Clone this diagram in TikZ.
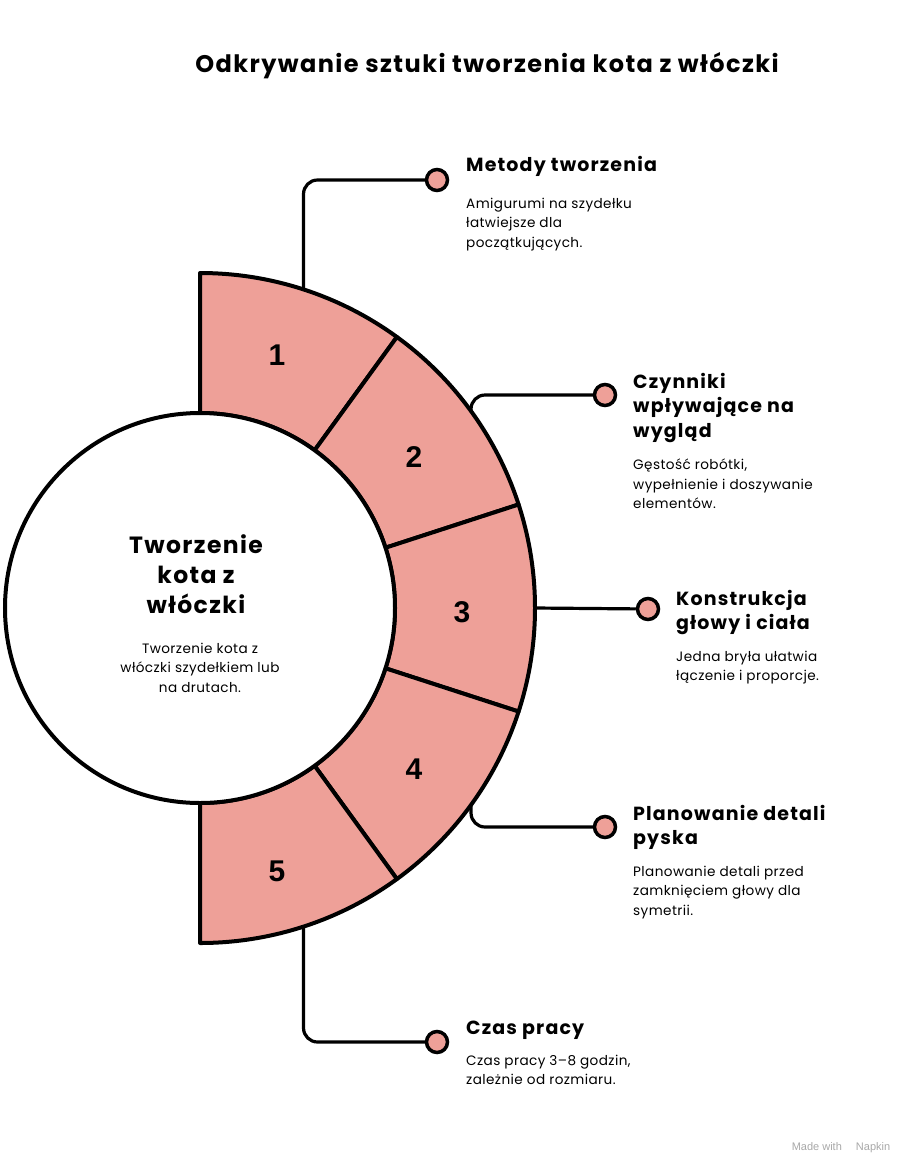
\documentclass[tikz,border=0pt]{standalone}
\usepackage{fontspec}
\setmainfont[LetterSpace=3]{Poppins}
\newfontfamily\headfont[LetterSpace=6]{Poppins}
\newfontfamily\numfont{Liberation Sans}
\usetikzlibrary{calc}
\definecolor{yarnpink}{HTML}{EEA098}
\definecolor{napkingray}{HTML}{A8A8A8}
\tikzset{
  ring/.style={fill=yarnpink, draw=black, line width=4pt, line join=round},
  hub/.style={circle, draw=black, fill=white, line width=4pt, minimum size=390pt, inner sep=0pt},
  dot/.style={circle, draw=black, fill=yarnpink, line width=3.5pt, minimum size=21pt, inner sep=0pt},
  link/.style={line width=3.2pt, rounded corners=14pt},
  head/.style={anchor=north west, align=left, inner sep=0pt, font=\headfont\fontsize{19}{24.5}\selectfont\bfseries},
  desc/.style={anchor=north west, align=left, inner sep=0pt, font=\fontsize{13.6}{19.3}\selectfont},
  num/.style={font=\numfont\fontsize{30}{30}\selectfont\bfseries}
}

\begin{document}
\begin{tikzpicture}[x=1pt, y=-1pt]
  \useasboundingbox (0,0) rectangle (919,1176);

  % centre and radii of the ring
  \coordinate (c) at (200,608);
  \def\rin{195}
  \def\rout{335}

  % title
  \node[font=\headfont\fontsize{24}{28}\selectfont\bfseries] (title) at (487,66) {Odkrywanie sztuki tworzenia kota z włóczki};

  % ring segments and link points
  \foreach \i in {1,...,5}{
    \pgfmathsetmacro{\angA}{-90+36*(\i-1)}
    \pgfmathsetmacro{\angB}{-90+36*\i}
    \pgfmathsetmacro{\angM}{-72+36*(\i-1)}
    \draw[ring] ($(c)+(\angA:\rin)$) -- ($(c)+(\angA:\rout)$)
      arc[start angle=\angA, end angle=\angB, radius=\rout]
      -- ($(c)+(\angB:\rin)$)
      arc[start angle=\angB, end angle=\angA, radius=\rin] -- cycle;
    \coordinate (e\i) at ($(c)+(\angM:\rout)$);
  }

  % numbers
  \foreach \i/\x/\y in {1/277/355, 2/414/457, 3/462/612, 4/414/769, 5/277/871}{
    \node[num] (n\i) at (\x,\y) {\i};
  }

  % hub
  \node[hub] (hub) at (c) {};
  \node[font=\headfont\fontsize{23.5}{30}\selectfont\bfseries, align=center, anchor=north] (hubtitle) at (196,531) {Tworzenie\\kota z\\włóczki};
  \node[desc, anchor=north, align=center] (hubtext) at (200,643) {Tworzenie kota z\\włóczki szydełkiem lub\\na drutach.};

  % dots
  \foreach \i/\x/\y in {1/437/180, 2/605/395, 3/648/609, 4/605/827, 5/437/1042}{
    \node[dot] (d\i) at (\x,\y) {};
  }

  % links
  \draw[link] (e1) |- (d1);
  \draw[link] (e2) |- (d2);
  \draw[link] (e3) -- (d3);
  \draw[link] (e4) |- (d4);
  \draw[link] (e5) |- (d5);

  % texts
  \node[head] (h1) at (466,156) {Metody tworzenia};
  \node[desc] (t1) at (466,198) {Amigurumi na szydełku\\łatwiejsze dla\\początkujących.};

  \node[head] (h2) at (633,373) {Czynniki\\wpływające na\\wygląd};
  \node[desc] (t2) at (633,459) {Gęstość robótki,\\wypełnienie i doszywanie\\elementów.};

  \node[head] (h3) at (676,590) {Konstrukcja\\głowy i ciała};
  \node[desc] (t3) at (676,651) {Jedna bryła ułatwia\\łączenie i proporcje.};

  \node[head] (h4) at (633,805) {Planowanie detali\\pyska};
  \node[desc] (t4) at (633,866) {Planowanie detali przed\\zamknięciem głowy dla\\symetrii.};

  \node[head] (h5) at (466,1021) {Czas pracy};
  \node[desc] (t5) at (466,1055) {Czas pracy 3–8 godzin,\\zależnie od rozmiaru.};

  % watermark
  \node[text=napkingray, font=\numfont\fontsize{11}{12}\selectfont] (mark) at (841,1148) {Made with \quad Napkin};
\end{tikzpicture}
\end{document}
